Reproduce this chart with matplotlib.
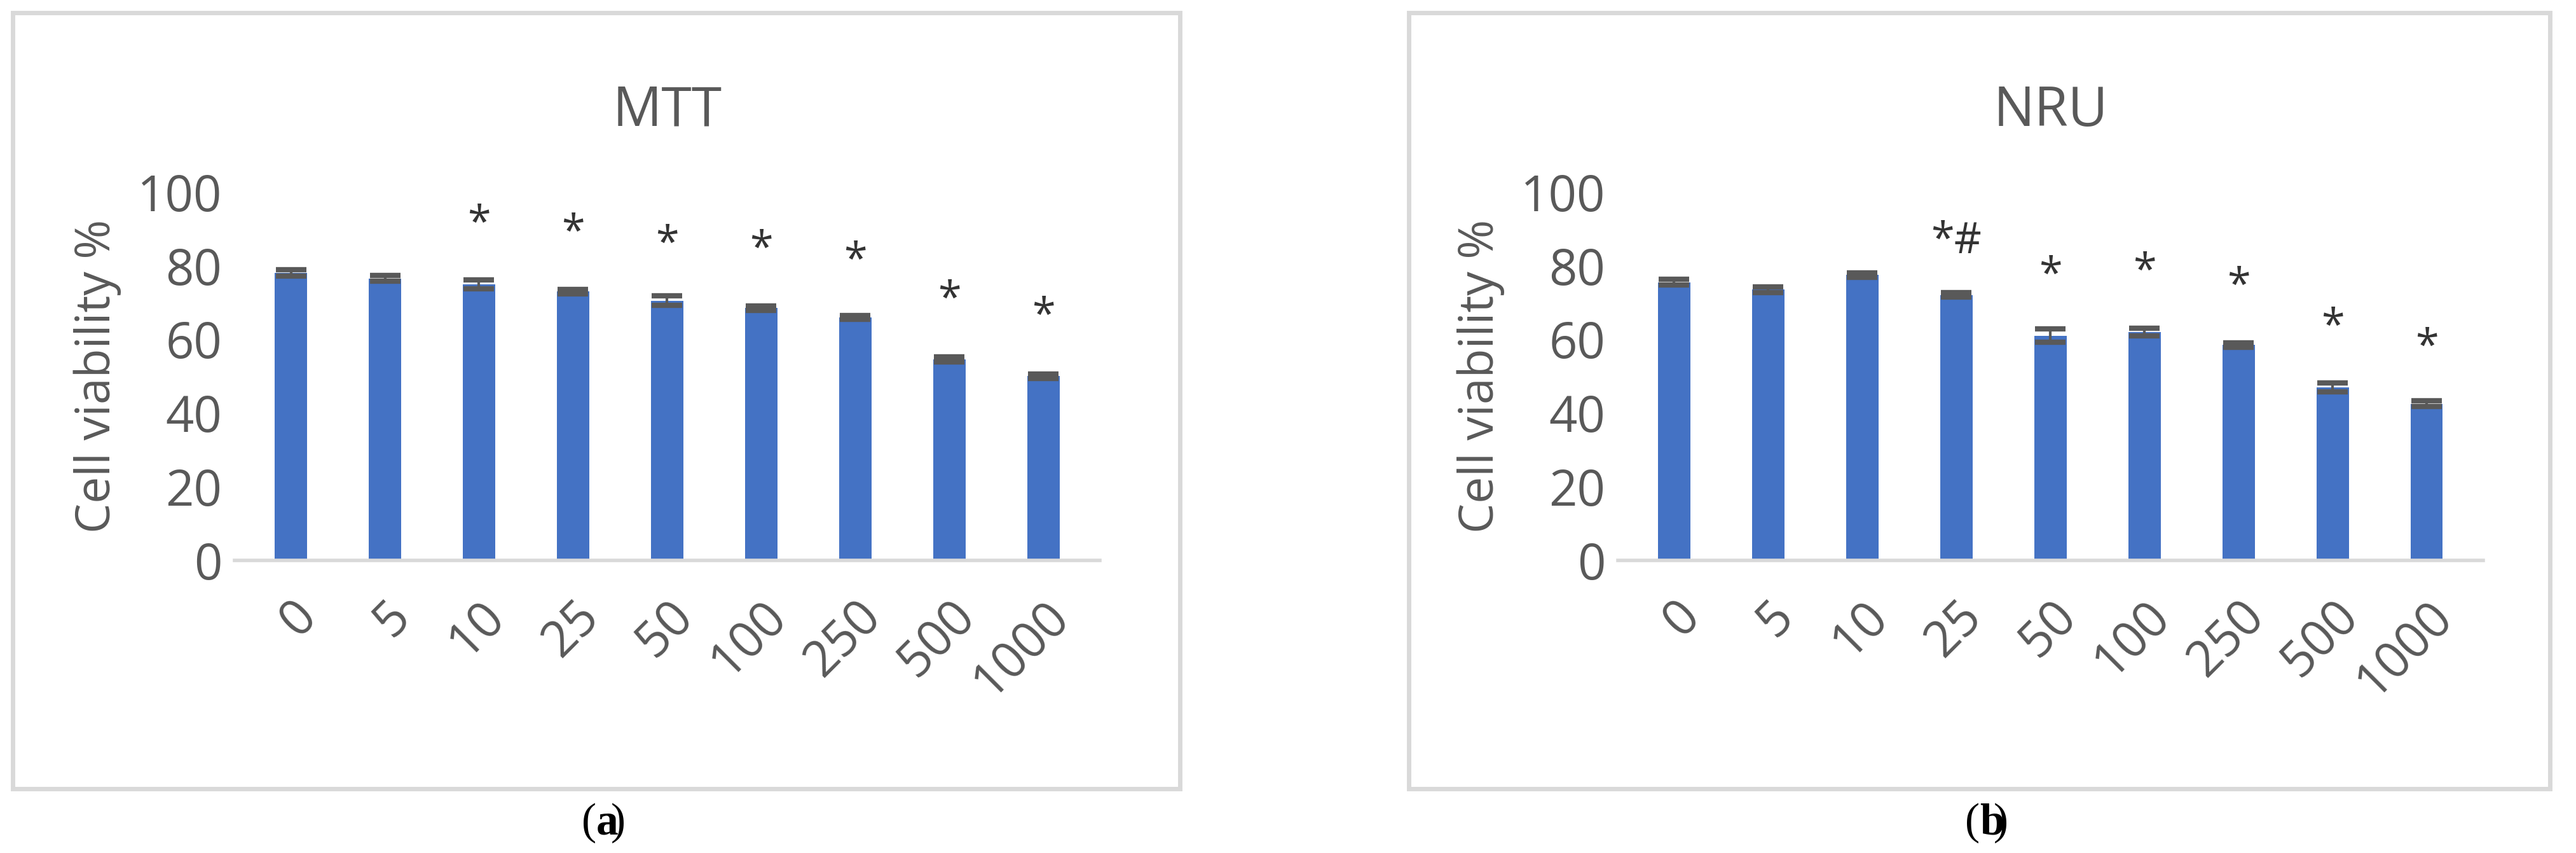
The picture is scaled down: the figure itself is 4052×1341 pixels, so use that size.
import matplotlib
matplotlib.use("Agg")
import matplotlib.pyplot as plt
from matplotlib.patches import Rectangle

categories = ["0", "5", "10", "25", "50", "100", "250", "500", "1000"]
mtt_values = [78, 76.5, 75, 73, 70.5, 68.5, 66, 54.5, 50]
mtt_errors = [0.9, 0.8, 1.2, 0.6, 1.3, 0.6, 0.5, 0.7, 0.6]
nru_values = [75.5, 73.5, 77.5, 72, 61, 62, 58.5, 47, 42.5]
nru_errors = [0.8, 0.8, 0.6, 0.6, 1.8, 1.0, 0.6, 1.2, 0.8]
mtt_marks = ["", "", "*", "*", "*", "*", "*", "*", "*"]
mtt_mark_y = [0, 0, 91, 88.5, 85.5, 84, 81, 70.5, 66]
nru_marks = ["", "", "", "*#", "*", "*", "*", "*", "*"]
nru_mark_y = [0, 0, 0, 86.5, 77, 78, 74, 63, 57.5]
yticks = [0, 20, 40, 60, 80, 100]

GREY = "#595959"
BLUE = "#4472C4"
fam = ["Liberation Sans Narrow", "Open Sans", "DejaVu Sans"]

fig = plt.figure(figsize=(40.52, 13.41), dpi=100)

def panel(rect_box, rect_ax, title, vals, errs, marks, marky, label):
    fig.patches.append(Rectangle((rect_box[0], rect_box[1]), rect_box[2], rect_box[3],
                                 transform=fig.transFigure, fill=False, edgecolor="#d9d9d9", lw=5))
    ax = fig.add_axes(rect_ax)
    x = range(len(categories))
    ax.bar(x, vals, width=0.34, color=BLUE, zorder=2)
    ax.errorbar(x, vals, yerr=errs, fmt="none", ecolor=GREY, elinewidth=3, capsize=17, capthick=6, zorder=3)
    for i, (m, y) in enumerate(zip(marks, marky)):
        if m:
            ax.text(i, y, m, ha="center", va="center", fontsize=48, color="#333333", family=fam)
    ax.set_ylim(0, 100)
    ax.set_xlim(-0.6, len(categories) - 0.4)
    ax.set_yticks(yticks)
    ax.set_xticks(list(x))
    ax.set_xticklabels(categories, rotation=45, ha="right", rotation_mode="anchor")
    for s in ["top", "right", "left"]:
        ax.spines[s].set_visible(False)
    ax.spines["bottom"].set_color("#d9d9d9")
    ax.spines["bottom"].set_linewidth(4)
    ax.tick_params(length=0, labelsize=56, colors=GREY, pad=14)
    ax.tick_params(axis="x", pad=35)
    for t in ax.get_xticklabels() + ax.get_yticklabels():
        t.set_family(fam)
    ax.set_ylabel("Cell viability %", fontsize=54, color=GREY, family=["Open Sans", "DejaVu Sans"], labelpad=18)
    ax.set_title(title, fontsize=62, color=GREY, family=fam, pad=75)
    cx = rect_box[0] + rect_box[2] / 2
    fig.text(cx, 0.035, "(", ha="right", va="center", fontsize=50,
             family=["Liberation Serif", "DejaVu Serif"])
    fig.text(cx, 0.035, label, ha="left", va="center", fontsize=50, fontweight="bold",
             family=["Liberation Serif", "DejaVu Serif"])
    fig.text(cx + 0.0055, 0.035, ")", ha="left", va="center", fontsize=50,
             family=["Liberation Serif", "DejaVu Serif"])
    return ax

panel((0.005, 0.075, 0.453, 0.91), (0.091, 0.343, 0.336, 0.432), "MTT",
      mtt_values, mtt_errors, mtt_marks, mtt_mark_y, "a")
panel((0.547, 0.075, 0.443, 0.91), (0.628, 0.343, 0.336, 0.432), "NRU",
      nru_values, nru_errors, nru_marks, nru_mark_y, "b")

fig.savefig("out.png", dpi=100, facecolor="white")
